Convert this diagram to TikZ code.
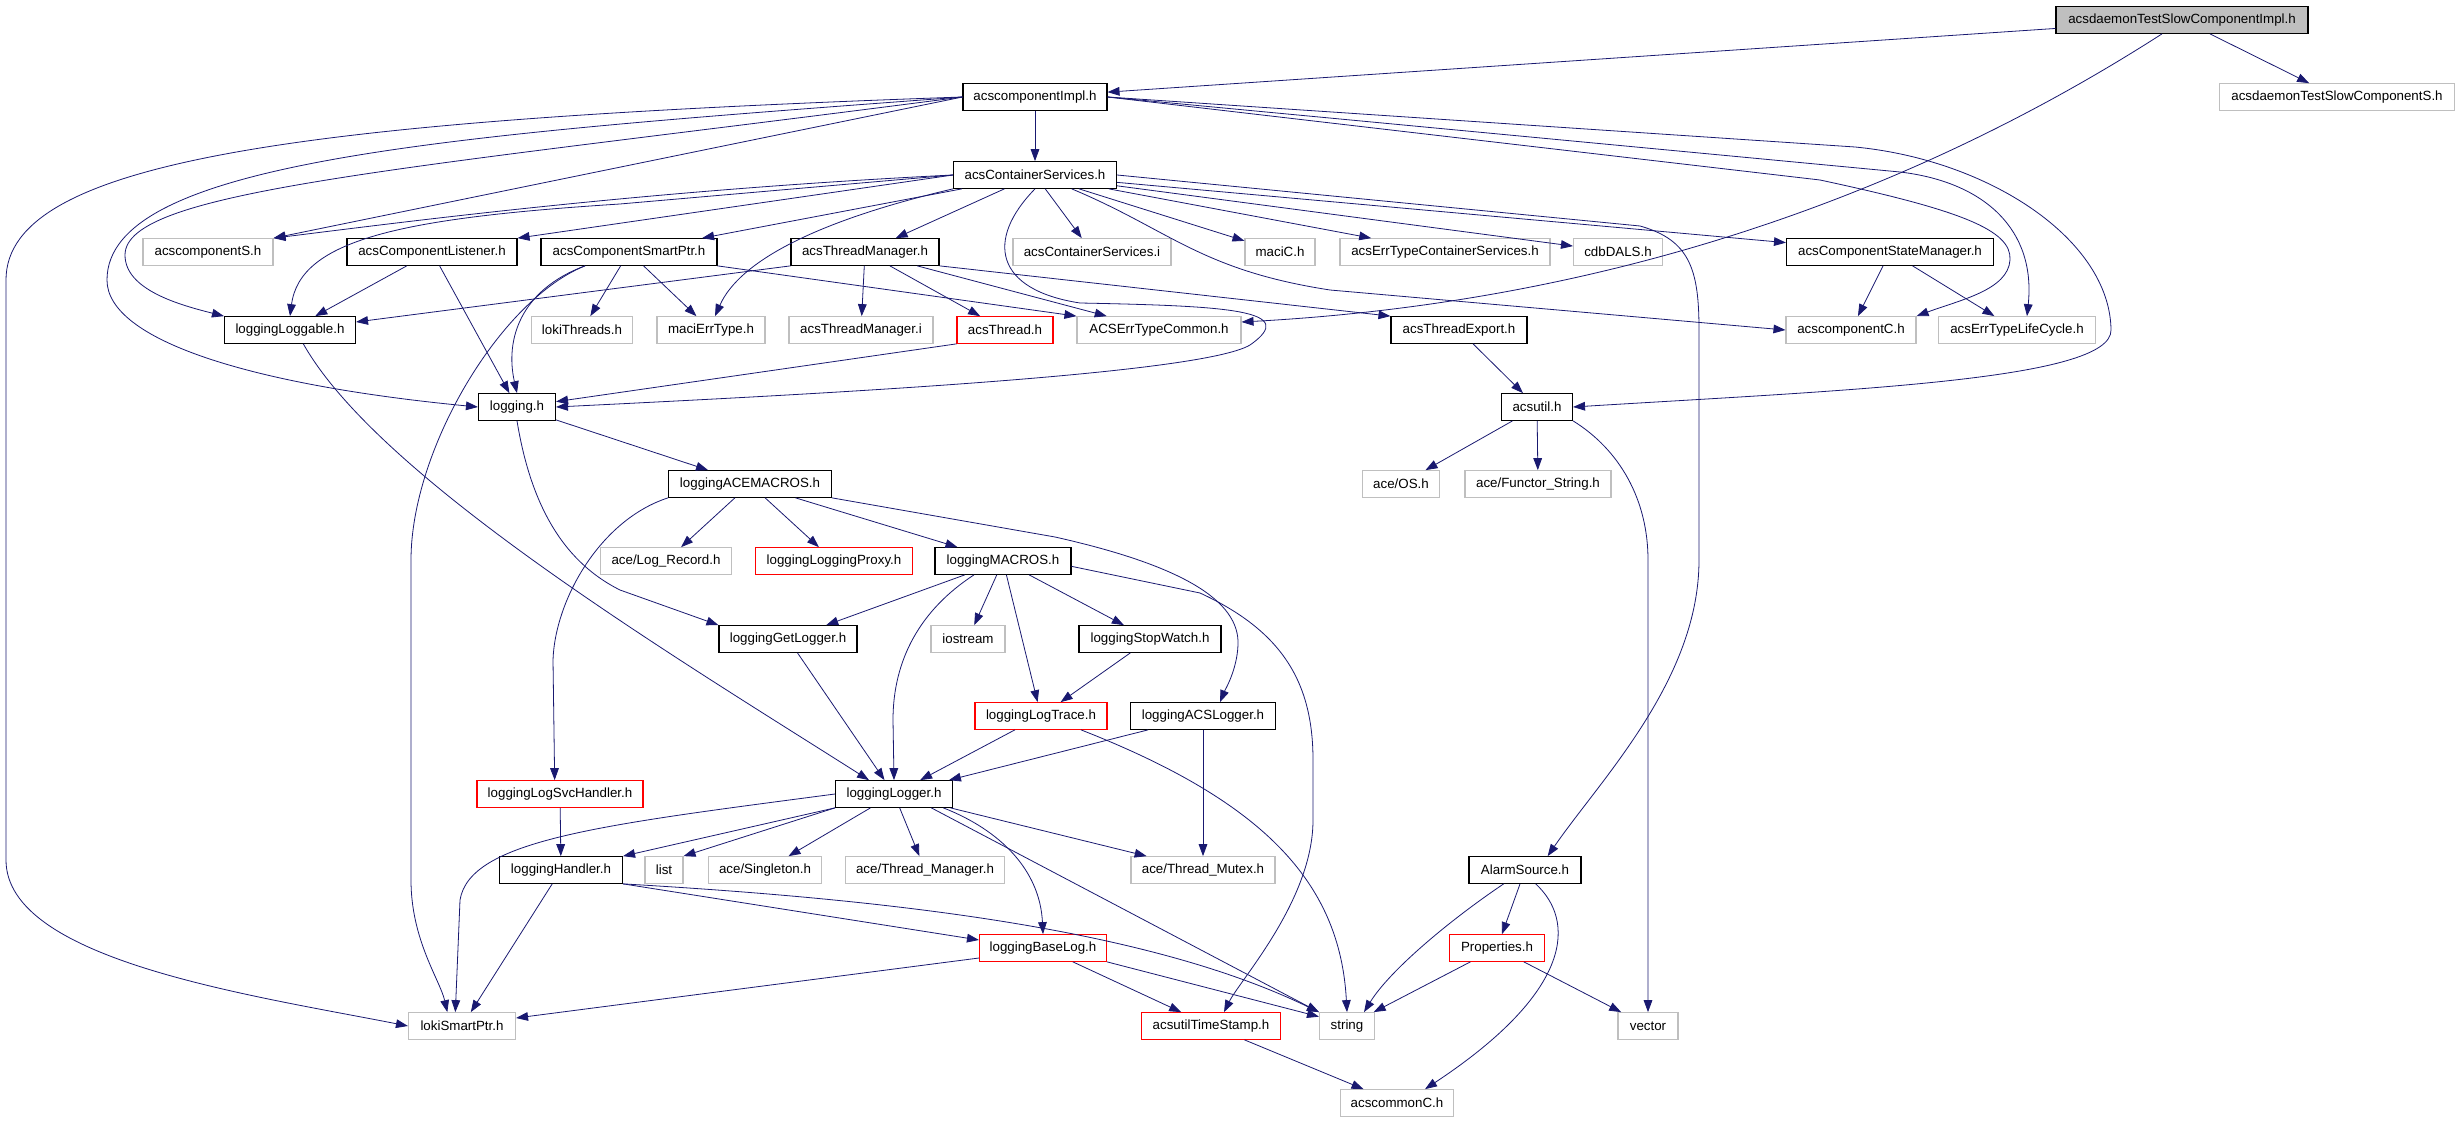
\documentclass[tikz,border=0pt]{standalone}
\usepackage{fontspec}
\setmainfont{Liberation Sans}
\usetikzlibrary{positioning}
\usetikzlibrary{arrows.meta}
\definecolor{edgeblue}{HTML}{191970}
\definecolor{boxgray}{HTML}{BFBFBF}
\tikzstyle{hfile}=[rectangle,draw=black,line width=0.8pt,minimum height=20pt,inner sep=0pt,font=\fontsize{10}{12}\selectfont]
\tikzstyle{extfile}=[hfile,draw=boxgray]
\tikzstyle{redfile}=[hfile,draw=red]
\tikzstyle{rootfile}=[hfile,fill=boxgray]
\tikzstyle{incl} = [draw=edgeblue,line width=0.6pt,-{Triangle[length=9pt,width=6.5pt]}]

\begin{document}
\begin{tikzpicture}[x=0.75pt,y=-0.75pt]

  \def\u{0.75pt};
  \useasboundingbox (0,0) rectangle (2459,1123);

  \node[rootfile, minimum width=252*\u] (daemonimpl) at (2182,20) {acsdaemonTestSlowComponentImpl.h};

  % documented headers
  \foreach \x/\y/\w/\name/\label in {1035/97/144/compimpl/acscomponentImpl.h, 1035/175/163/contsvc/acsContainerServices.h,
      432/252/170/complistener/acsComponentListener.h, 629/252/176/smartptr/acsComponentSmartPtr.h,
      865/252/148/threadmgr/acsThreadManager.h, 1890/252/207/statemgr/acsComponentStateManager.h,
      290/330/131/loggable/loggingLoggable.h, 1459/330/136/threadexport/acsThreadExport.h,
      517/407/77/logging/logging.h, 1537/407/71/acsutil/acsutil.h, 750/484/163/acemacros/loggingACEMACROS.h,
      1003/561/136/macros/loggingMACROS.h, 788/639/138/getlogger/loggingGetLogger.h,
      1150/639/142/stopwatch/loggingStopWatch.h, 1203/716/145/acslogger/loggingACSLogger.h,
      894/794/117/logger/loggingLogger.h, 561/870/123/handler/loggingHandler.h, 1525/870/112/alarmsource/AlarmSource.h}
    \node[hfile, minimum width=\w*\u] (\name) at (\x,\y) {\label};

  % truncated headers
  \foreach \x/\y/\w/\name/\label in {1005/330/96/thread/acsThread.h, 834/561/157/loggingproxy/loggingLoggingProxy.h,
      1041/716/132/logtrace/loggingLogTrace.h, 560/794/166/logsvchandler/loggingLogSvcHandler.h,
      1043/948/127/baselog/loggingBaseLog.h, 1497/948/95/properties/Properties.h, 1211/1026/139/timestamp/acsutilTimeStamp.h}
    \node[redfile, minimum width=\w*\u] (\name) at (\x,\y) {\label};

  % undocumented headers
  \foreach \x/\y/\w/\name/\label in {2337/97/235/daemonS/acsdaemonTestSlowComponentS.h, 208/252/130/compS/acscomponentS.h,
      1092/252/158/contsvci/acsContainerServices.i, 1280/252/70/maciC/maciC.h,
      1445/252/210/errcontsvc/acsErrTypeContainerServices.h, 1618/252/89/cdbdals/cdbDALS.h,
      582/330/101/lokithreads/lokiThreads.h, 711/330/108/macierr/maciErrType.h,
      861/330/144/threadmgri/acsThreadManager.i, 1159/330/164/errcommon/ACSErrTypeCommon.h,
      1851/330/130/compC/acscomponentC.h, 2017/330/157/errlifecycle/acsErrTypeLifeCycle.h,
      1401/484/77/aceos/{ace/OS.h}, 1538/484/146/functor/{ace/Functor\_String.h},
      666/561/131/logrecord/{ace/Log\_Record.h}, 968/639/74/iostream/iostream, 664/870/38/list/list,
      765/870/113/singleton/{ace/Singleton.h}, 925/870/159/threadmanager/{ace/Thread\_Manager.h},
      1203/870/144/threadmutex/{ace/Thread\_Mutex.h}, 462/1026/107/lokismartptr/lokiSmartPtr.h,
      1347/1026/55/string/string, 1648/1026/60/vector/vector, 1397/1103/113/commonC/acscommonC.h}
    \node[extfile, minimum width=\w*\u] (\name) at (\x,\y) {\label};

  % straight includes
  \foreach \source/\dest in {daemonimpl/compimpl, daemonimpl/daemonS, compimpl/contsvc, contsvc/smartptr,
      contsvc/threadmgr, contsvc/contsvci, contsvc/maciC, contsvc/errcontsvc, contsvc/cdbdals, contsvc/statemgr,
      complistener/loggable, complistener/logging, smartptr/lokithreads, smartptr/macierr, threadmgr/threadmgri,
      threadmgr/thread, threadmgr/errcommon, threadexport/acsutil, statemgr/compC, statemgr/errlifecycle,
      acsutil/aceos, acsutil/functor, logging/acemacros, acemacros/logrecord, acemacros/loggingproxy,
      acemacros/macros, macros/getlogger, macros/iostream, macros/stopwatch, macros/logtrace, getlogger/logger,
      stopwatch/logtrace, logtrace/logger, acslogger/logger, acslogger/threadmutex, logger/singleton,
      logger/threadmanager, logger/threadmutex, logsvchandler/handler, handler/lokismartptr, baselog/timestamp,
      timestamp/commonC, alarmsource/properties, properties/string, properties/vector}
    \draw[incl] (\source) -- (\dest);

  \draw[incl] (compimpl.west) -- (compS.north east);
  \draw[incl] (contsvc.west) -- (complistener.north east);
  \draw[incl] (smartptr.south east) -- (errcommon.north west);
  \draw[incl] (threadmgr.south west) -- ([yshift=6pt]loggable.east);
  \draw[incl] (threadmgr.south east) -- (threadexport.north west);
  \draw[incl] (thread.south west) -- ([yshift=4pt]logging.east);
  \draw[incl] (logger.south west) -- (handler.north east);
  \draw[incl] (logger.south west) -- (list.north east);
  \draw[incl] ([xshift=28pt]logger.south) -- (string.north west);
  \draw[incl] (handler.south east) -- ([yshift=6pt]baselog.west);
  \draw[incl] ([yshift=-7.5pt]baselog.west) -- ([yshift=6pt]lokismartptr.east);
  \draw[incl] (baselog.south east) -- ([yshift=7pt]string.west);

  % long curved includes
  \draw[incl] ([xshift=-15pt]daemonimpl.south) .. controls (1950,170) and (1650,300) .. ([yshift=6pt]errcommon.east);
  \draw[incl] (compimpl.west) .. controls (300,120) and (6,160) .. (6,280) -- (6,860) .. controls (6,960) and (250,995) .. (lokismartptr.west);
  \draw[incl] (compimpl.west) .. controls (450,135) and (107,160) .. (107,280) .. controls (107,340) and (250,385) .. (logging.west);
  \draw[incl] (compimpl.west) .. controls (400,170) and (125,190) .. (125,255) .. controls (125,290) and (180,305) .. (loggable.north west);
  \draw[incl] (compimpl.east) -- (1855,147) .. controls (1990,160) and (2110,240) .. (2111,330) .. controls (2112,380) and (1850,390) .. (acsutil.east);
  \draw[incl] (compimpl.east) -- (1900,172) .. controls (1985,182) and (2036,230) .. ([xshift=7.5pt]errlifecycle.north);
  \draw[incl] (compimpl.east) -- (1820,180) .. controls (1960,210) and (2012,230) .. (2010,260) .. controls (2008,290) and (1960,300) .. (compC.north east);

  \draw[incl] (contsvc.west) .. controls (650,190) and (420,220) .. (compS.north east);
  \draw[incl] (contsvc.west) -- (620,204) .. controls (400,218) and (300,240) .. (loggable.north);
  \draw[incl] (contsvc.south west) .. controls (820,220) and (740,260) .. ([xshift=3pt]macierr.north);
  \draw[incl] (contsvc.south) .. controls (985,240) and (995,290) .. (1080,303) .. controls (1230,306) and (1300,310) .. (1250,345) .. controls (1200,375) and (800,395) .. (logging.east);
  \draw[incl] (contsvc.east) -- (1640,226) .. controls (1690,240) and (1699,270) .. (1699,330) -- (1699,560) .. controls (1699,680) and (1600,780) .. ([xshift=17pt]alarmsource.north);
  \draw[incl] ([xshift=-34pt]contsvc.south east) .. controls (1170,230) and (1200,270) .. (1330,290) -- (compC.west);

  \draw[incl] ([xshift=-33pt]smartptr.south) .. controls (520,290) and (505,340) .. (logging.north);
  \draw[incl] ([xshift=-33pt]smartptr.south) .. controls (500,300) and (411,450) .. (411,560) -- (411,880) .. controls (411,940) and (440,980) .. ([xshift=-11pt]lokismartptr.north);

  \draw[incl] (acsutil.south east) .. controls (1620,450) and (1648,500) .. (1648,560) -- (vector.north);
  \draw[incl] (logging.south) .. controls (530,500) and (560,560) .. (620,590) -- (getlogger.north west);
  \draw[incl] (acemacros.south west) .. controls (600,520) and (555,600) .. (553,660) -- ([xshift=-4pt]logsvchandler.north);
  \draw[incl] (acemacros.south east) -- (1055,537) .. controls (1180,565) and (1240,600) .. (1238,645) .. controls (1237,670) and (1225,690) .. ([xshift=12.75pt]acslogger.north);
  \draw[incl] ([xshift=-21.75pt]macros.south) .. controls (920,610) and (893,660) .. (893,720) -- (logger.north);
  \draw[incl] ([yshift=-4pt]macros.east) -- (1200,593) .. controls (1280,630) and (1313,680) .. (1313,760) -- (1313,820) .. controls (1313,900) and (1240,980) .. ([xshift=9.75pt]timestamp.north);
  \draw[incl] ([xshift=30pt]logtrace.south) .. controls (1260,800) and (1340,880) .. (string.north);
  \draw[incl] ([xshift=10pt]loggable.south) .. controls (380,480) and (680,660) .. ([xshift=-18.75pt]logger.north);

  \draw[incl] ([xshift=37pt]logger.south) .. controls (1000,830) and (1040,870) .. (baselog.north);
  \draw[incl] (logger.west) .. controls (600,825) and (470,840) .. (460,900) -- ([xshift=-5pt]lokismartptr.north);
  \draw[incl] (handler.south east) .. controls (900,900) and (1150,930) .. (string.north west);
  \draw[incl] ([xshift=-16pt]alarmsource.south) .. controls (1450,920) and (1390,970) .. ([xshift=12.75pt]string.north);
  \draw[incl] ([xshift=8pt]alarmsource.south) .. controls (1575,920) and (1575,990) .. ([xshift=21pt]commonC.north);

\end{tikzpicture}
\end{document}
